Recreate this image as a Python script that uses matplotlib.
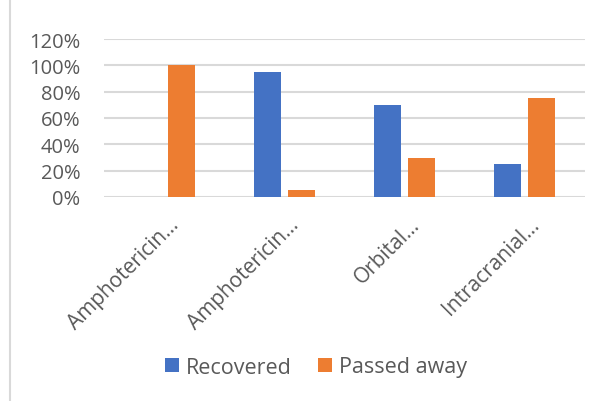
import numpy as np
import matplotlib.pyplot as plt
import matplotlib.transforms as mtransforms
from matplotlib.lines import Line2D
from matplotlib.ticker import PercentFormatter

plt.rcParams['font.family'] = ['Open Sans', 'DejaVu Sans']

# data
categories = ["Amphotericin...", "Amphotericin...", "Orbital...", "Intracranial..."]
recovered = [0, 95, 70, 25]
passed_away = [100, 5, 30, 75]

BLUE = "#4472C4"
ORANGE = "#ED7D31"
GRAY = "#595959"

fig = plt.figure(figsize=(6.05, 4.02), dpi=100)
ax = fig.add_axes([104/605, 1 - 198/402, (585-104)/605, (198-40)/402])

x = np.arange(len(categories))
w = 0.225
off = (w + 0.058) / 2
ax.bar(x - off, recovered, width=w, color=BLUE, label="Recovered")
ax.bar(x + off, passed_away, width=w, color=ORANGE, label="Passed away")

ax.set_xlim(-0.5, len(categories) - 0.5)
ax.set_ylim(0, 120)
ax.set_yticks(np.arange(0, 121, 20))
ax.yaxis.set_major_formatter(PercentFormatter(decimals=0))
ax.grid(axis="y", color="#d9d9d9", linewidth=1.5)
ax.set_axisbelow(True)
for s in ax.spines.values():
    s.set_visible(False)
ax.tick_params(axis="y", length=0, labelsize=14.5, labelcolor=GRAY, pad=17)

ax.set_xticks(x)
ax.set_xticklabels(categories, rotation=45, ha="right", va="top",
                   rotation_mode="anchor")
ax.tick_params(axis="x", length=0, labelsize=15, labelcolor=GRAY, pad=12)
# nudge rotated labels a little to the right, like the excel original
shift = mtransforms.ScaledTranslation(3/72, 0, fig.dpi_scale_trans)
for lab in ax.get_xticklabels():
    lab.set_transform(lab.get_transform() + shift)

fig.legend(loc="center", bbox_to_anchor=(316/605, 1 - 368/402), ncol=2, frameon=False,
           fontsize=15.5, labelcolor=GRAY, handlelength=0.65, handleheight=0.65,
           handletextpad=0.33, columnspacing=1.25)

fig.add_artist(Line2D([10/605, 10/605], [0, 1], color="#d9d9d9", linewidth=1.5))

fig.savefig("out.png", dpi=100)
